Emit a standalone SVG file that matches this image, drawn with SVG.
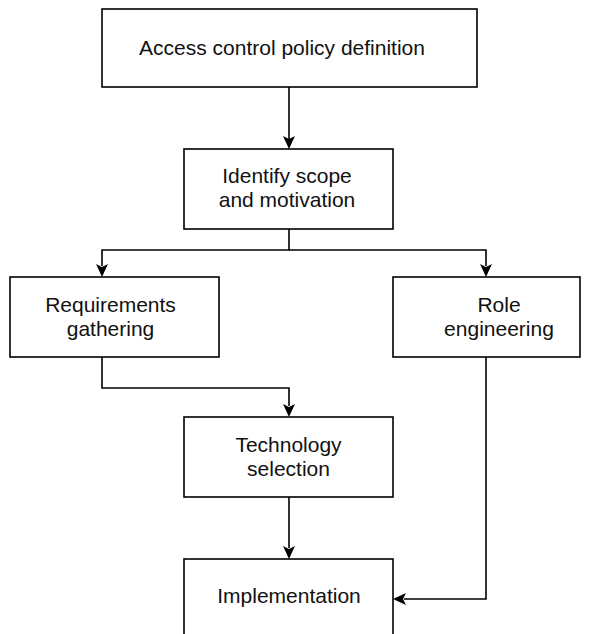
<svg xmlns="http://www.w3.org/2000/svg" width="594" height="634" viewBox="0 0 594 634">
  <style>
    .box { fill: #ffffff; stroke: #000000; stroke-width: 1.6; }
    .lbl { font-family: "Liberation Sans", Arial, Helvetica, sans-serif; font-size: 21px; fill: #111111; text-anchor: middle; }
    .edge { fill: none; stroke: #000000; stroke-width: 1.6; }
    .head { fill: #000000; stroke: none; }
  </style>
  <defs>
    <!-- notched arrowhead pointing down, tip at origin -->
    <path id="tip" d="M0,0 L-6,-13 L0,-10 L6,-13 Z"/>
  </defs>
  <rect width="594" height="634" fill="#ffffff"/>

  <g id="connectors">
    <path class="edge" d="M289,87 V140"/>
    <use href="#tip" class="head" transform="translate(289,149)"/>
    <path class="edge" d="M289,229 V250 H102 V266"/>
    <use href="#tip" class="head" transform="translate(102,277)"/>
    <path class="edge" d="M289,250 H486 V266"/>
    <use href="#tip" class="head" transform="translate(486,277)"/>
    <path class="edge" d="M102,357 V388 H289 V406"/>
    <use href="#tip" class="head" transform="translate(289,417)"/>
    <path class="edge" d="M289,497 V548"/>
    <use href="#tip" class="head" transform="translate(289,559)"/>
    <path class="edge" d="M486,357 V599 H404"/>
    <use href="#tip" class="head" transform="translate(393,599) rotate(90)"/>
  </g>

  <g id="policy">
    <rect class="box" x="102" y="9" width="375" height="78"/>
    <text class="lbl" x="282" y="55">Access control policy definition</text>
  </g>
  <g id="scope">
    <rect class="box" x="184" y="149" width="209" height="80"/>
    <text class="lbl" x="287" y="183">Identify scope</text>
    <text class="lbl" x="287" y="207">and motivation</text>
  </g>
  <g id="requirements">
    <rect class="box" x="10" y="277" width="209" height="80"/>
    <text class="lbl" x="110.5" y="311.5">Requirements</text>
    <text class="lbl" x="110.5" y="335.5">gathering</text>
  </g>
  <g id="role">
    <rect class="box" x="393" y="277" width="187" height="80"/>
    <text class="lbl" x="499" y="311.5">Role</text>
    <text class="lbl" x="499" y="335.5">engineering</text>
  </g>
  <g id="technology">
    <rect class="box" x="184" y="417" width="209" height="80"/>
    <text class="lbl" x="288.5" y="451.5">Technology</text>
    <text class="lbl" x="288.5" y="475.5">selection</text>
  </g>
  <g id="implementation">
    <rect class="box" x="184" y="559" width="209" height="84"/>
    <text class="lbl" x="289" y="603">Implementation</text>
  </g>
</svg>
